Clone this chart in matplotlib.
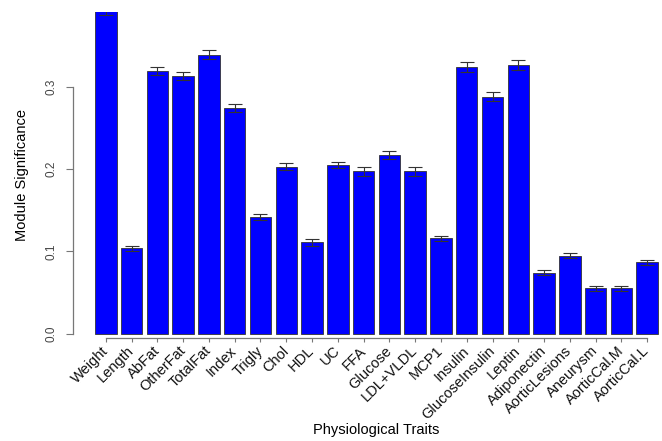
import matplotlib.pyplot as plt
import numpy as np

plt.rcParams['font.family'] = ['Liberation Sans', 'DejaVu Sans']

traits = ['Weight', 'Length', 'AbFat', 'OtherFat', 'TotalFat', 'Index', 'Trigly',
          'Chol', 'HDL', 'UC', 'FFA', 'Glucose', 'LDL+VLDL', 'MCP1', 'Insulin',
          'GlucoseInsulin', 'Leptin', 'Adiponectin', 'AorticLesions', 'Aneurysm',
          'AorticCal.M', 'AorticCal.L']
signif = [0.393, 0.104, 0.319, 0.313, 0.339, 0.274, 0.142,
          0.203, 0.111, 0.205, 0.197, 0.217, 0.197, 0.116, 0.324,
          0.288, 0.326, 0.074, 0.095, 0.055,
          0.055, 0.087]
stderr = [0.006, 0.003, 0.005, 0.005, 0.005, 0.005, 0.004,
          0.004, 0.004, 0.004, 0.005, 0.005, 0.005, 0.003, 0.006,
          0.006, 0.006, 0.003, 0.003, 0.0025,
          0.0025, 0.003]

# R barplot layout: width 1, space 0.2
centers = 0.7 + 1.2 * np.arange(len(traits))

fig = plt.figure(figsize=(6.62, 4.41), dpi=100)
ax = fig.add_axes([72.5 / 662, 103.5 / 441, 608 / 662, 325.5 / 441])

ax.bar(centers, signif, width=1.0, color='#0000ff', edgecolor='#333333', linewidth=0.6)
ax.errorbar(centers, signif, yerr=stderr, fmt='none', ecolor='#333333',
            elinewidth=0.8, capsize=5, capthick=0.8)

ax.set_xlim(0.2 - 1.048, 26.4 + 1.048)
ax.set_ylim(-0.0045, 0.3906)

for s in ['top', 'right']:
    ax.spines[s].set_visible(False)
ax.spines['left'].set_bounds(0, 0.3)
ax.spines['bottom'].set_bounds(centers[0], centers[-1])
for s in ['left', 'bottom']:
    ax.spines[s].set_color('#777777')
    ax.spines[s].set_linewidth(0.9)

ax.set_yticks([0.0, 0.1, 0.2, 0.3])
ax.set_yticklabels(['0.0', '0.1', '0.2', '0.3'], rotation=90, va='center', fontsize=8.5, color='#444444')
ax.tick_params(axis='y', length=5, color='#777777', pad=6)

ax.set_xticks(centers)
ax.set_xticklabels(traits, rotation=45, ha='right', va='center', rotation_mode='anchor',
                   fontsize=10.5, color='#111111')
ax.tick_params(axis='x', length=3, color='#777777', pad=5)

ax.set_ylabel('Module Significance', fontsize=10.5, va='center')
ax.yaxis.set_label_coords(-50.5 / 608, 0.5)
ax.set_xlabel('Physiological Traits', fontsize=10.5, va='center')
ax.xaxis.set_label_coords(0.5, -92.5 / 325.5)

plt.savefig('out.png', dpi=100)
